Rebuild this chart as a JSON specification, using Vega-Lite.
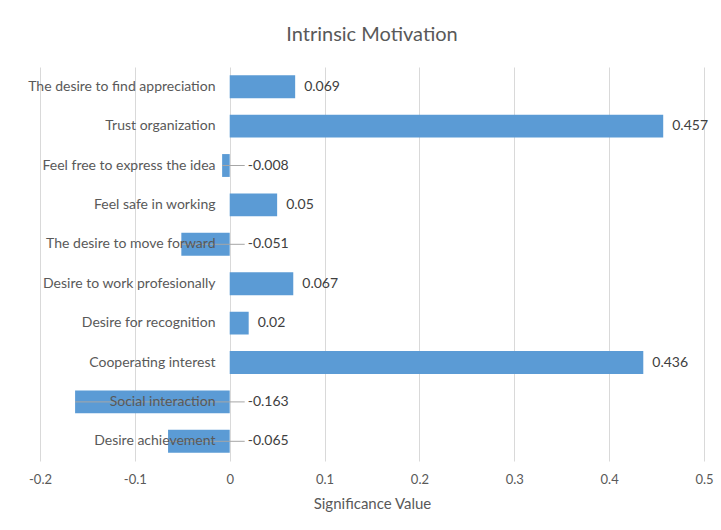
{
  "$schema": "https://vega.github.io/schema/vega-lite/v6.json",
  "width": 664,
  "height": 394,
  "autosize": "none",
  "padding": {"left": 40, "top": 67, "right": 17, "bottom": 69},
  "background": "white",
  "config": {
    "font": "Lato",
    "view": {"stroke": null}
  },
  "title": {
    "text": "Intrinsic Motivation",
    "fontSize": 20,
    "fontWeight": "normal",
    "color": "#595959",
    "anchor": "middle",
    "offset": 22
  },
  "data": {
    "values": [
      {"item": "The desire to find appreciation", "value": 0.069},
      {"item": "Trust organization", "value": 0.457},
      {"item": "Feel free to express the idea", "value": -0.008},
      {"item": "Feel safe in working", "value": 0.05},
      {"item": "The desire to move forward", "value": -0.051},
      {"item": "Desire to work profesionally", "value": 0.067},
      {"item": "Desire for recognition", "value": 0.02},
      {"item": "Cooperating interest", "value": 0.436},
      {"item": "Social interaction", "value": -0.163},
      {"item": "Desire achievement", "value": -0.065}
    ]
  },
  "encoding": {
    "y": {
      "field": "item",
      "type": "nominal",
      "sort": null,
      "scale": {"paddingInner": 0.42, "paddingOuter": 0.21},
      "axis": {
        "title": null,
        "offset": -190,
        "domain": false,
        "ticks": false,
        "labelPadding": 15,
        "labelFontSize": 14,
        "labelColor": "#595959",
        "labelLimit": 300,
        "zindex": 1
      }
    }
  },
  "layer": [
    {
      "mark": {"type": "bar", "color": "#5B9BD5"},
      "encoding": {
        "x": {
          "field": "value",
          "type": "quantitative",
          "scale": {"domain": [-0.2, 0.5], "nice": false, "zero": false},
          "axis": {
            "title": "Significance Value",
            "titleFontSize": 15,
            "titleFontWeight": "normal",
            "titleColor": "#595959",
            "titlePadding": 10,
            "values": [-0.2, -0.1, 0, 0.1, 0.2, 0.3, 0.4, 0.5],
            "labelExpr": "toString(datum.value)",
            "labelFontSize": 13,
            "labelColor": "#595959",
            "labelPadding": 12,
            "domain": false,
            "ticks": false,
            "grid": true,
            "gridColor": "#d9d9d9",
            "labelFlush": false,
            "zindex": 0
          }
        },
        "x2": {"datum": 0}
      }
    },
    {
      "transform": [{"filter": "datum.value < 0"}],
      "mark": {"type": "rule", "color": "#a6a6a6", "strokeWidth": 1, "x2Offset": 15},
      "encoding": {
        "x": {"field": "value", "type": "quantitative"},
        "x2": {"datum": 0}
      }
    },
    {
      "transform": [{"filter": "datum.value >= 0"}],
      "mark": {"type": "text", "align": "left", "dx": 9, "fontSize": 14, "color": "#404040"},
      "encoding": {
        "x": {"field": "value", "type": "quantitative"},
        "text": {"field": "value", "type": "nominal"}
      }
    },
    {
      "transform": [{"filter": "datum.value < 0"}],
      "mark": {"type": "text", "align": "left", "dx": 18, "fontSize": 14, "color": "#404040"},
      "encoding": {
        "x": {"datum": 0},
        "text": {"field": "value", "type": "nominal"}
      }
    }
  ]
}
